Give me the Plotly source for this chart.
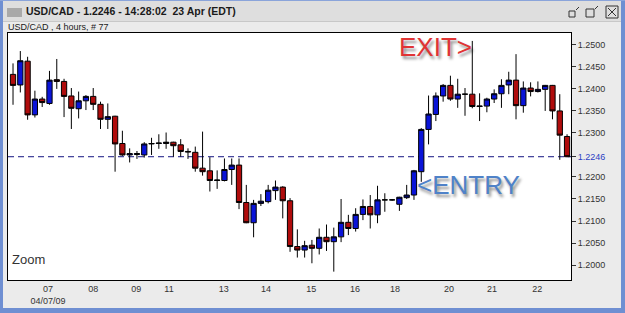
import plotly.graph_objects as go

# ---------------- data ----------------
bar_index = list(range(77))
opens = [1.2433, 1.2409, 1.2463, 1.2341, 1.2377, 1.2367, 1.2421, 1.2417, 1.2384, 1.2355,
         1.2373, 1.2383, 1.2365, 1.2331, 1.2338, 1.2276, 1.2250, 1.2251, 1.2250, 1.2275,
         1.2276, 1.2276, 1.2279, 1.2273, 1.2258, 1.2256, 1.2220, 1.2214, 1.2192, 1.2192,
         1.2217, 1.2227, 1.2142, 1.2096, 1.2140, 1.2144, 1.2169, 1.2177, 1.2146, 1.2042,
         1.2034, 1.2045, 1.2038, 1.2063, 1.2053, 1.2064, 1.2097, 1.2083, 1.2115, 1.2133,
         1.2114, 1.2148, 1.2148, 1.2138, 1.2153, 1.2159, 1.2212, 1.2308, 1.2342, 1.2384,
         1.2408, 1.2377, 1.2388, 1.2388, 1.2360, 1.2361, 1.2377, 1.2389, 1.2409, 1.2420,
         1.2362, 1.2402, 1.2394, 1.2399, 1.2408, 1.2350, 1.2292]
highs = [1.2458, 1.2486, 1.2473, 1.2396, 1.2382, 1.2441, 1.2468, 1.2423, 1.2402, 1.2394,
         1.2386, 1.2402, 1.2371, 1.2367, 1.2339, 1.2305, 1.2265, 1.2259, 1.2279, 1.2289,
         1.2297, 1.2301, 1.2280, 1.2286, 1.2265, 1.2269, 1.2303, 1.2245, 1.2215, 1.2242,
         1.2242, 1.2242, 1.2182, 1.2148, 1.2161, 1.2182, 1.2192, 1.2179, 1.2152, 1.2081,
         1.2055, 1.2057, 1.2083, 1.2092, 1.2085, 1.2150, 1.2114, 1.2129, 1.2149, 1.2159,
         1.2180, 1.2163, 1.2150, 1.2155, 1.2182, 1.2216, 1.2311, 1.2385, 1.2392, 1.2411,
         1.2430, 1.2423, 1.2402, 1.2509, 1.2390, 1.2380, 1.2399, 1.2422, 1.2439, 1.2479,
         1.2417, 1.2415, 1.2417, 1.2409, 1.2409, 1.2388, 1.2297]
lows = [1.2364, 1.2392, 1.2330, 1.2335, 1.2359, 1.2364, 1.2400, 1.2336, 1.2309, 1.2333,
        1.2352, 1.2352, 1.2309, 1.2309, 1.2212, 1.2248, 1.2233, 1.2241, 1.2244, 1.2250,
        1.2264, 1.2264, 1.2246, 1.2246, 1.2241, 1.2212, 1.2203, 1.2167, 1.2173, 1.2190,
        1.2182, 1.2127, 1.2095, 1.2063, 1.2134, 1.2140, 1.2148, 1.2106, 1.2030, 1.2017,
        1.2017, 1.2004, 1.2024, 1.2032, 1.1985, 1.2052, 1.2068, 1.2076, 1.2102, 1.2083,
        1.2095, 1.2121, 1.2146, 1.2123, 1.2150, 1.2148, 1.2189, 1.2274, 1.2327, 1.2371,
        1.2373, 1.2357, 1.2339, 1.2356, 1.2327, 1.2347, 1.2368, 1.2357, 1.2388, 1.2331,
        1.2346, 1.2383, 1.2392, 1.2350, 1.2331, 1.2239, 1.2245]
closes = [1.2408, 1.2464, 1.2341, 1.2377, 1.2369, 1.2420, 1.2417, 1.2383, 1.2356, 1.2373,
          1.2383, 1.2365, 1.2331, 1.2337, 1.2275, 1.2250, 1.2253, 1.2253, 1.2275, 1.2276,
          1.2277, 1.2279, 1.2271, 1.2258, 1.2257, 1.2220, 1.2212, 1.2192, 1.2193, 1.2217,
          1.2227, 1.2142, 1.2096, 1.2140, 1.2145, 1.2170, 1.2177, 1.2146, 1.2042, 1.2034,
          1.2044, 1.2038, 1.2063, 1.2053, 1.2064, 1.2097, 1.2083, 1.2115, 1.2133, 1.2114,
          1.2148, 1.2148, 1.2148, 1.2154, 1.2159, 1.2214, 1.2308, 1.2343, 1.2384, 1.2408,
          1.2377, 1.2388, 1.2388, 1.2360, 1.2361, 1.2377, 1.2389, 1.2408, 1.2420, 1.2362,
          1.2402, 1.2394, 1.2399, 1.2408, 1.2350, 1.2295, 1.2246]

last_price = closes[-1]
ytick_vals = [1.2000, 1.2050, 1.2100, 1.2150, 1.2200, 1.2246, 1.2300,
              1.2350, 1.2400, 1.2450, 1.2500]
xtick_pos = [4.8, 11, 16.9, 21.4, 28.9, 34.7, 40.9, 46.9, 52.4, 59.8, 65.7, 71.9]
xtick_text = ["07<br>04/07/09", "08", "09", "11", "13", "14", "15", "16",
              "18", "20", "21", "22"]
window_title = "USD/CAD - 1.2246 - 14:28:02\u00a0\u00a023 Apr (EDT)"
chart_label = "USD/CAD , 4 hours, # 77"

# ---------------- layout helpers (pixel -> paper) ----------------
W, H = 625, 313
PL, PR, PT, PB = 8, 571, 33, 280


def px(x):
    return (x - PL) / (PR - PL)


def py(y):
    return (PB - y) / (PB - PT)


FONT = "Liberation Sans, Arial, sans-serif"

ytick_text = []
for v in ytick_vals:
    t = f"{v:.4f}"
    if abs(v - last_price) < 1e-9:
        t = f"<span style='color:#2b3fc4'>{t}</span>"
    ytick_text.append(t)

fig = go.Figure()
fig.add_trace(go.Candlestick(
    x=bar_index, open=opens, high=highs, low=lows, close=closes,
    increasing=dict(fillcolor="#0a14d8", line=dict(color="#000000", width=1)),
    decreasing=dict(fillcolor="#b00c0c", line=dict(color="#000000", width=1)),
    whiskerwidth=0, showlegend=False, hoverinfo="skip",
))

shapes = []


def rect(x0, y0, x1, y1, fill=None, line=None, lw=0):
    shapes.append(dict(type="rect", xref="paper", yref="paper",
                       x0=px(x0), x1=px(x1), y0=py(y0), y1=py(y1),
                       fillcolor=fill if fill else "rgba(0,0,0,0)",
                       line=dict(color=line if line else "rgba(0,0,0,0)", width=lw),
                       layer="below"))


def seg(x0, y0, x1, y1, color, lw=1):
    shapes.append(dict(type="line", xref="paper", yref="paper",
                       x0=px(x0), x1=px(x1), y0=py(y0), y1=py(y1),
                       line=dict(color=color, width=lw), layer="below"))


# title bar
rect(0, 0, 625, 21, fill="#dedede")
seg(0, 21.5, 625, 21.5, "#c8c8c8")
# window borders
rect(0, 0, 3, 313, fill="#6f8fd2")
rect(621, 0, 625, 313, fill="#6f8fd2")
rect(0, 308, 625, 313, fill="#6f8fd2")
rect(0, 0, 625, 1, fill="#8aa4da")
# title-bar icon
rect(7, 8, 22, 17, fill="#a9a9a9")
# right-side window buttons
rect(569, 11, 575, 17, line="#333333", lw=1)
seg(576, 10, 579, 7, "#333333")
rect(586, 9, 594, 17, line="#333333", lw=1)
seg(595, 9, 598, 6, "#333333")
rect(606, 6, 618, 18, line="#333333", lw=1)
seg(608, 8, 616, 16, "#333333")
seg(616, 8, 608, 16, "#333333")

# last-price dashed line
shapes.append(dict(type="line", xref="paper", yref="y", x0=0, x1=1,
                   y0=last_price, y1=last_price,
                   line=dict(color="#141482", width=1, dash="6px,4px"),
                   layer="below"))

annotations = [
    dict(text=window_title, x=px(24), y=py(11.5), xref="paper", yref="paper",
         xanchor="left", yanchor="middle", showarrow=False,
         font=dict(family=FONT, size=10.5, color="#1a1a1a", weight="bold")),
    dict(text=chart_label, x=px(6), y=py(27), xref="paper", yref="paper",
         xanchor="left", yanchor="middle", showarrow=False,
         font=dict(family=FONT, size=9, color="#1a1a1a")),
    dict(text="Zoom", x=px(10), y=py(259), xref="paper", yref="paper",
         xanchor="left", yanchor="middle", showarrow=False,
         font=dict(family=FONT, size=13, color="#333333")),
    dict(text="EXIT&gt;", x=px(397), y=py(47), xref="paper", yref="paper",
         xanchor="left", yanchor="middle", showarrow=False,
         font=dict(family=FONT, size=26, color="#e03434",
                   shadow="2px 3px 3px rgba(0,0,0,0.45)")),
    dict(text="&lt;ENTRY", x=px(415), y=py(185), xref="paper", yref="paper",
         xanchor="left", yanchor="middle", showarrow=False,
         font=dict(family=FONT, size=26, color="#4f82c8",
                   shadow="2px 3px 3px rgba(0,0,0,0.45)")),
]

fig.update_layout(
    width=W, height=H,
    margin=dict(l=PL, r=W - PR, t=PT, b=H - PB, pad=0),
    paper_bgcolor="#ebebeb", plot_bgcolor="#ffffff",
    showlegend=False,
    boxgap=0.15, boxgroupgap=0.15,
    shapes=shapes, annotations=annotations,
    font=dict(family=FONT, size=9, color="#333333"),
    xaxis=dict(range=[-0.69, 76.54], rangeslider=dict(visible=False),
               tickmode="array", tickvals=xtick_pos, ticktext=xtick_text,
               ticks="", showgrid=False, zeroline=False,
               showline=True, linecolor="#000000", linewidth=1, mirror=True,
               tickfont=dict(family=FONT, size=9, color="#333333")),
    yaxis=dict(range=[1.1966, 1.2527], side="right",
               tickmode="array", tickvals=ytick_vals, ticktext=ytick_text,
               ticks="outside", ticklen=4, tickcolor="#333333",
               showgrid=False, zeroline=False,
               showline=True, linecolor="#000000", linewidth=1, mirror=True,
               tickfont=dict(family=FONT, size=9, color="#333333")),
)

fig.write_html("out.html")
